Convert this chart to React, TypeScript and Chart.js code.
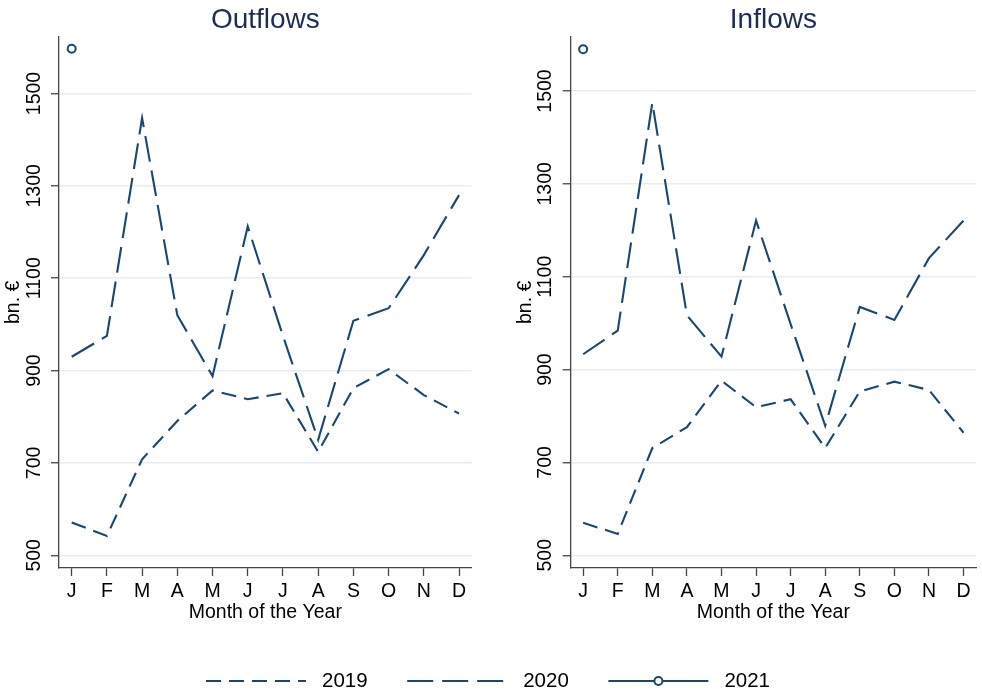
import React, { useEffect, useRef } from 'react';
import { Chart, registerables } from 'chart.js';

Chart.register(...registerables);

const FONT = "'Liberation Sans', Arial, Helvetica, sans-serif";
const LINE_COLOR = '#1a476f';
const TITLE_COLOR = '#1d2c57';
const AXIS_COLOR = '#444444';
const GRID_COLOR = '#e6eef1';

const months = ['J', 'F', 'M', 'A', 'M', 'J', 'J', 'A', 'S', 'O', 'N', 'D'];
const yTicks = [500, 700, 900, 1100, 1300, 1500];
const seriesLabels = ['2019', '2020', '2021'];

const outflows2019 = [571, 542, 708, 791, 857, 838, 851, 724, 862, 903, 847, 807];
const outflows2020 = [930, 975, 1447, 1020, 888, 1212, 975, 750, 1008, 1035, 1150, 1280];
const outflows2021 = [1597];

const inflows2019 = [570, 546, 731, 776, 876, 819, 836, 731, 853, 874, 856, 764];
const inflows2020 = [933, 984, 1475, 1017, 928, 1221, 998, 779, 1035, 1007, 1140, 1221];
const inflows2021 = [1590];

const dashes: number[][] = [[15, 8], [26, 9], []];

function toPoints(vals: number[]) {
  return vals.map((v, i) => ({ x: i, y: v }));
}

function makeDatasets(s2019: number[], s2020: number[], s2021: number[]) {
  return [
    {
      label: seriesLabels[0], data: toPoints(s2019), borderColor: LINE_COLOR, backgroundColor: LINE_COLOR,
      borderWidth: 2.1, borderDash: dashes[0], pointRadius: 0, fill: false, tension: 0,
    },
    {
      label: seriesLabels[1], data: toPoints(s2020), borderColor: LINE_COLOR, backgroundColor: LINE_COLOR,
      borderWidth: 2.1, borderDash: dashes[1], pointRadius: 0, fill: false, tension: 0,
    },
    {
      label: seriesLabels[2], data: toPoints(s2021), borderColor: LINE_COLOR, backgroundColor: '#ffffff',
      borderWidth: 2.1, borderDash: dashes[2], pointRadius: 4, pointBorderWidth: 2,
      pointBackgroundColor: '#ffffff', pointBorderColor: LINE_COLOR, pointStyle: 'circle', fill: false,
    },
  ];
}

function makeConfig(title: string, s2019: number[], s2020: number[], s2021: number[],
  yMin: number, yMax: number, padLeft: number, padRight: number): any {
  return {
    type: 'line',
    data: { datasets: makeDatasets(s2019, s2020, s2021) },
    options: {
      animation: false,
      responsive: false,
      maintainAspectRatio: false,
      layout: { padding: { left: padLeft, right: padRight, top: 0, bottom: 0 } },
      plugins: {
        legend: { display: false },
        tooltip: { enabled: false },
        title: {
          display: true, text: title, fullSize: false, color: TITLE_COLOR,
          font: { family: FONT, size: 28, weight: 'normal' },
          padding: { top: 3, bottom: 0.1 },
        },
      },
      scales: {
        x: {
          type: 'linear', min: -0.36, max: 11.36,
          afterBuildTicks: (s: any) => { s.ticks = months.map((_, i) => ({ value: i })); },
          afterFit: (s: any) => { s.height = 82; s.paddingLeft = 0; s.paddingRight = 0; },
          ticks: {
            autoSkip: false, maxRotation: 0, minRotation: 0, padding: 4, color: '#000000',
            font: { family: FONT, size: 19.5 },
            callback: (v: any) => months[v as number] ?? '',
          },
          grid: { display: true, drawOnChartArea: false, drawTicks: true, tickLength: 8, tickColor: AXIS_COLOR, tickWidth: 1.3 },
          border: { display: true, color: AXIS_COLOR, width: 1.3 },
          title: {
            display: true, text: 'Month of the Year', color: '#000000',
            font: { family: FONT, size: 19.5 }, padding: { top: 0, bottom: 25.8 },
          },
        },
        y: {
          type: 'linear', min: yMin, max: yMax,
          afterBuildTicks: (s: any) => { s.ticks = yTicks.map((v) => ({ value: v })); },
          afterFit: (s: any) => { s.width = 59; s.paddingTop = 0; s.paddingBottom = 0; },
          ticks: {
            autoSkip: false, minRotation: 90, maxRotation: 90, crossAlign: 'center', padding: -5,
            color: '#000000', font: { family: FONT, size: 19.5 },
            callback: (v: any) => String(v),
          },
          grid: { display: true, color: GRID_COLOR, lineWidth: 1.5, drawTicks: true, tickLength: 8, tickColor: AXIS_COLOR, tickWidth: 1.3 },
          border: { display: true, color: AXIS_COLOR, width: 1.3 },
          title: {
            display: true, text: 'bn. €', color: '#000000',
            font: { family: FONT, size: 19.5 }, padding: { top: 2.3, bottom: 0 },
          },
        },
      },
    },
  };
}

const legendPlugin = {
  id: 'customLegend',
  afterDraw(chart: any) {
    const ctx = chart.ctx;
    const sets = chart.data.datasets;
    const sampleW = 100;
    const gapText = 16;
    const gapItem = 39.6;
    const cy = 31;
    ctx.save();
    ctx.font = `20.5px ${FONT}`;
    const widths = sets.map((d: any) => ctx.measureText(d.label).width);
    let total = 0;
    widths.forEach((w: number, i: number) => { total += sampleW + gapText + w + (i < widths.length - 1 ? gapItem : 0); });
    let x = 488 - total / 2;
    sets.forEach((d: any, i: number) => {
      ctx.strokeStyle = d.borderColor;
      ctx.lineWidth = d.borderWidth;
      ctx.setLineDash(d.borderDash || []);
      ctx.beginPath();
      ctx.moveTo(x, cy);
      ctx.lineTo(x + sampleW, cy);
      ctx.stroke();
      ctx.setLineDash([]);
      if (d.pointRadius && d.pointRadius > 0) {
        ctx.beginPath();
        ctx.arc(x + sampleW / 2, cy, d.pointRadius, 0, Math.PI * 2);
        ctx.fillStyle = d.pointBackgroundColor;
        ctx.fill();
        ctx.lineWidth = d.pointBorderWidth;
        ctx.strokeStyle = d.pointBorderColor;
        ctx.stroke();
      }
      ctx.fillStyle = '#000000';
      ctx.textAlign = 'left';
      ctx.textBaseline = 'middle';
      ctx.fillText(d.label, x + sampleW + gapText, cy);
      x += sampleW + gapText + widths[i] + gapItem;
    });
    ctx.restore();
  },
};

export default function App() {
  const leftRef = useRef<HTMLCanvasElement>(null);
  const rightRef = useRef<HTMLCanvasElement>(null);
  const legendRef = useRef<HTMLCanvasElement>(null);

  useEffect(() => {
    const charts: Chart[] = [];
    if (leftRef.current) {
      charts.push(new Chart(leftRef.current, makeConfig('Outflows', outflows2019, outflows2020, outflows2021, 472.5, 1623, 0, 19.3)));
    }
    if (rightRef.current) {
      charts.push(new Chart(rightRef.current, makeConfig('Inflows', inflows2019, inflows2020, inflows2021, 472.6, 1617, 20.7, 0)));
    }
    if (legendRef.current) {
      const ds = makeDatasets([], [], []);
      charts.push(new Chart(legendRef.current, {
        type: 'line',
        data: { datasets: ds as any },
        options: {
          animation: false, responsive: false, maintainAspectRatio: false,
          plugins: { legend: { display: false }, tooltip: { enabled: false } },
          scales: { x: { type: 'linear', display: false }, y: { display: false } },
        },
        plugins: [legendPlugin],
      } as any));
    }
    return () => { charts.forEach((c) => c.destroy()); };
  }, []);

  return (
    <div style={{ position: 'absolute', left: 0, top: 0, width: 982, height: 695, background: '#ffffff', overflow: 'hidden' }}>
      <canvas ref={leftRef} width={491} height={650} style={{ position: 'absolute', left: 0, top: 0, width: 491, height: 650 }} />
      <canvas ref={rightRef} width={491} height={650} style={{ position: 'absolute', left: 491, top: 0, width: 491, height: 650 }} />
      <canvas ref={legendRef} width={982} height={45} style={{ position: 'absolute', left: 0, top: 650, width: 982, height: 45 }} />
    </div>
  );
}
